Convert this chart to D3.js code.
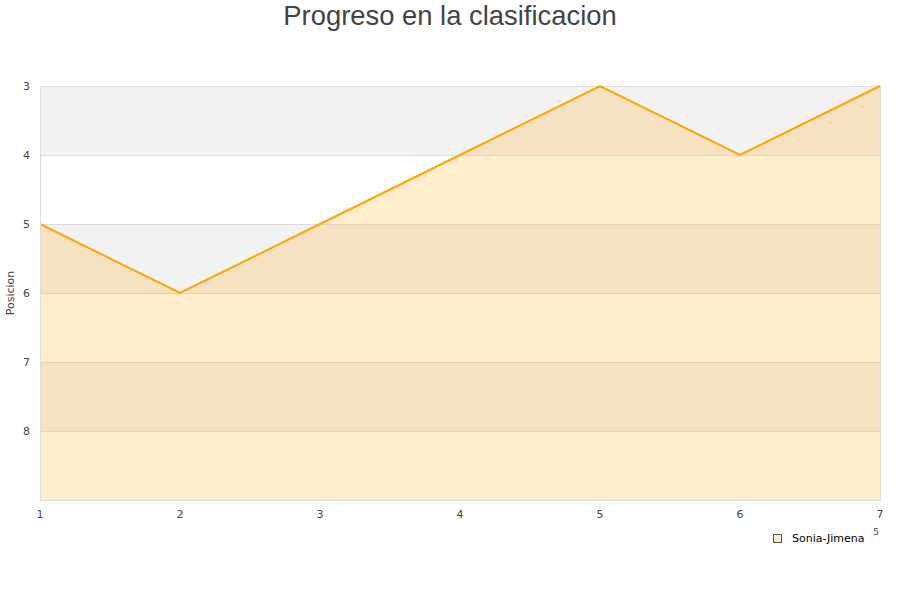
<!DOCTYPE html>
<html><head><meta charset="utf-8">
<script src="https://cdn.jsdelivr.net/npm/d3@7"></script>
<style>body{margin:0;background:#fff;}svg{display:block;font-family:"DejaVu Sans",sans-serif;}</style>
</head><body>
<svg id="c" width="900" height="600"></svg>
<script>
const jornadas = [1,2,3,4,5,6,7];
const posiciones = [5,6,5,4,3,4,3];
const yTicks = [3,4,5,6,7,8];
const seriesName = "Sonia-Jimena";
const title = "Progreso en la clasificacion";
const yTitle = "Posicion";

const svg = d3.select("#c");
const L=40,R=880,T=86,B=500;
const x = d3.scaleLinear().domain([1,7]).range([L,R]);
const y = d3.scaleLinear().domain([3,9]).range([T,B]);

// bands
const bands = d3.range(3,9);
svg.selectAll("rect.band").data(bands).enter().append("rect")
  .attr("x",L).attr("width",R-L)
  .attr("y",d=>y(d)).attr("height",d=>y(d+1)-y(d))
  .attr("fill",(d,i)=> i%2===0 ? "#f2f2f2" : "#ffffff");
// grid
svg.selectAll("line.grid").data(d3.range(3,10)).enter().append("line")
  .attr("x1",L).attr("x2",R).attr("y1",d=>y(d)+0.5).attr("y2",d=>y(d)+0.5)
  .attr("stroke","#dddddd");

const pts = jornadas.map((j,i)=>[j,posiciones[i]]);
svg.append("path").datum(pts)
  .attr("d",d3.area().x(d=>x(d[0])).y0(B).y1(d=>y(d[1])))
  .attr("fill","orange").attr("fill-opacity",0.2);
svg.append("path").datum(pts)
  .attr("d",d3.line().x(d=>x(d[0])).y(d=>y(d[1])))
  .attr("fill","none").attr("stroke","orange").attr("stroke-width",2);

// borders
svg.append("line").attr("x1",L+0.5).attr("x2",L+0.5).attr("y1",T).attr("y2",B).attr("stroke","#dddddd");
svg.append("line").attr("x1",R+0.5).attr("x2",R+0.5).attr("y1",T).attr("y2",B).attr("stroke","#dddddd");
svg.append("line").attr("x1",L).attr("x2",R+1).attr("y1",B+0.5).attr("y2",B+0.5).attr("stroke","#dddddd");

// axes labels
svg.selectAll("text.yt").data(yTicks).enter().append("text")
  .attr("x",30).attr("y",d=>y(d)+4).attr("text-anchor","end")
  .attr("font-size",11).attr("fill","#444").text(d=>d);
svg.selectAll("text.xt").data(jornadas).enter().append("text")
  .attr("x",d=>x(d)).attr("y",518).attr("text-anchor","middle")
  .attr("font-size",11).attr("fill","#444").text(d=>d);

svg.append("text").attr("transform","translate(14,293) rotate(-90)")
  .attr("text-anchor","middle").attr("font-size",11).attr("fill","#444").text(yTitle);

svg.append("text").attr("x",450).attr("y",25).attr("text-anchor","middle")
  .attr("font-family","'Liberation Sans',Arial,sans-serif")
  .attr("font-size",27.4).attr("fill","#444").text(title);

// stray mark near legend
svg.append("text").attr("x",876).attr("y",535).attr("text-anchor","middle").attr("font-size",9).attr("fill","#444").text("5");

// legend
svg.append("rect").attr("x",773.5).attr("y",534.5).attr("width",8).attr("height",8)
  .attr("fill","#fdeac6").attr("stroke","#555");
svg.append("text").attr("x",792).attr("y",542).attr("font-size",11).attr("fill","#000").text(seriesName);
</script>
</body></html>
